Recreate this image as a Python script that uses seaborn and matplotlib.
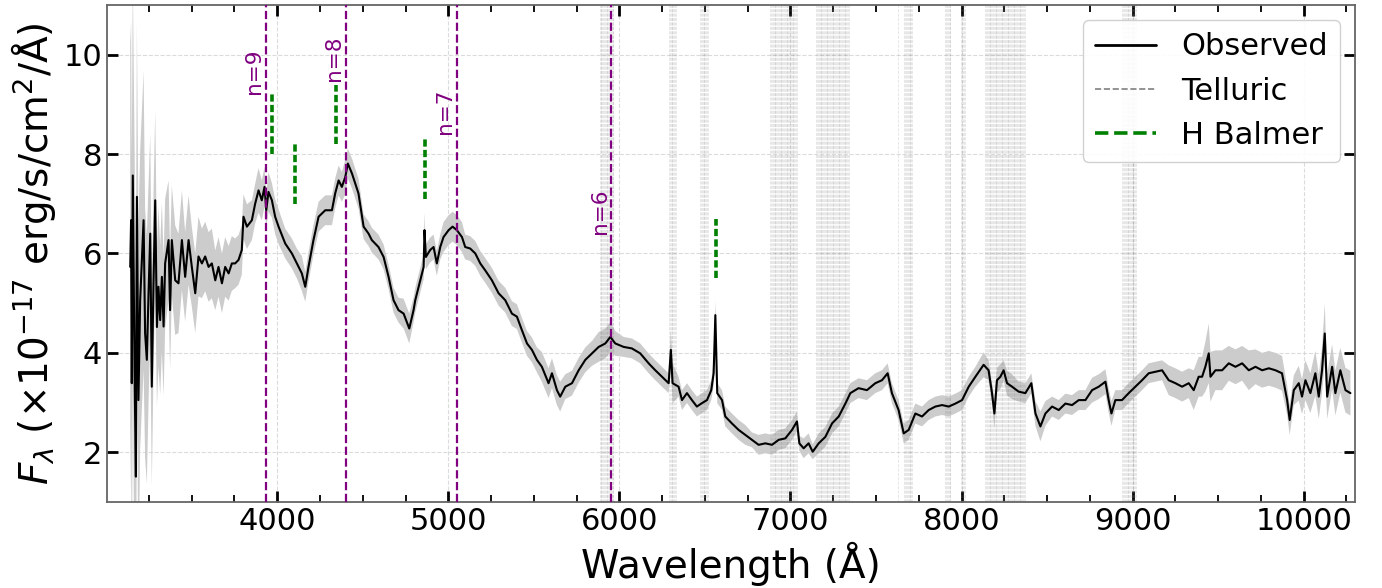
import numpy as np
import matplotlib
matplotlib.use("Agg")
import matplotlib.pyplot as plt
import seaborn as sns
from matplotlib.lines import Line2D
from matplotlib.ticker import MultipleLocator

# observed spectrum (wavelength in A, flux in 1e-17 erg/s/cm2/A)
wave = [3141, 3146, 3150, 3156, 3166, 3174, 3180, 3189, 3199, 3209,
        3219, 3228, 3238, 3248, 3258, 3267, 3277, 3287, 3297, 3306,
        3316, 3326, 3336, 3345, 3365, 3374, 3384, 3404, 3423, 3443,
        3462, 3482, 3501, 3521, 3540, 3560, 3579, 3599, 3618, 3638,
        3657, 3677, 3696, 3716, 3735, 3754, 3774, 3793, 3803, 3823,
        3852, 3871, 3891, 3910, 3926, 3936, 3949, 3969, 3988, 4008,
        4047, 4086, 4115, 4144, 4164, 4183, 4212, 4242, 4281, 4320,
        4339, 4359, 4378, 4398, 4413, 4437, 4475, 4505, 4534, 4553,
        4592, 4622, 4651, 4680, 4709, 4739, 4772, 4797,
        4807, 4836, 4856, 4861, 4869, 4894, 4914, 4933, 4953, 4972,
        5002, 5025, 5050, 5080, 5099, 5128, 5158, 5187, 5216, 5255,
        5294, 5333, 5372, 5401, 5430, 5460, 5489, 5518, 5547, 5586,
        5606, 5635, 5654, 5684, 5723, 5762, 5801, 5840, 5879, 5918,
        5947, 5976, 6025, 6073, 6122, 6171, 6210, 6249, 6288, 6301,
        6311, 6346, 6366, 6395, 6424, 6453, 6483, 6512, 6537, 6551,
        6561, 6572, 6600,
        6619, 6658, 6697, 6736, 6775, 6814, 6853, 6892, 6931, 6970,
        7009, 7038, 7052, 7077, 7106, 7130, 7165, 7204, 7243, 7282,
        7321, 7350, 7398, 7447, 7496, 7535, 7568, 7593, 7632, 7662,
        7691, 7730, 7769, 7808, 7847, 7886, 7925, 7964, 8003, 8042,
        8081, 8129, 8158, 8178, 8192, 8207, 8227, 8246, 8266, 8295,
        8334, 8373, 8408,
        8432, 8461, 8490, 8529, 8568, 8607, 8646, 8685, 8724, 8763,
        8802, 8841, 8860, 8876, 8899, 8938, 8977, 9016, 9055, 9094,
        9133, 9172, 9211, 9250, 9289, 9328, 9357, 9386, 9406, 9425,
        9445, 9455, 9484, 9523, 9562, 9601, 9640, 9679, 9718, 9757,
        9796, 9835, 9873, 9903, 9918, 9942, 9971, 9990, 10010, 10039,
        10068, 10088, 10107, 10123, 10137, 10166, 10185, 10214, 10244, 10273]

flux = [5.73, 6.67, 3.39, 7.57, 3.72, 1.51, 7.14, 3.05, 5.06, 5.87,
        6.67, 4.39, 3.86, 5.2, 6.4, 3.32, 5.4, 7.07, 4.52, 5.33,
        4.66, 5.53, 4.53, 5.8, 6.27, 4.86, 6.27, 5.46, 5.4, 6.27,
        5.53, 6.27, 5.73, 5.2, 5.94, 5.8, 5.94, 5.73, 5.8, 5.46,
        5.73, 5.4, 5.73, 5.6, 5.8, 5.8, 5.87, 6.07, 6.74, 6.54,
        6.67, 7.0, 7.27, 7.07, 7.34, 6.87, 7.24, 7.07, 6.74, 6.54,
        6.2, 6.0, 5.8, 5.6, 5.33, 5.73, 6.27, 6.74, 6.87, 6.87,
        7.21, 7.47, 7.34, 7.54, 7.81, 7.61, 7.21, 6.54, 6.4, 6.27,
        6.13, 5.93, 5.53, 5.06, 4.86, 4.79, 4.49, 4.86,
        5.06, 5.46, 5.73, 6.47, 5.93, 6.07, 6.13, 5.8, 6.13, 6.33,
        6.47, 6.54, 6.47, 6.33, 6.13, 6.1, 6.0, 5.8, 5.66, 5.46,
        5.2, 5.06, 4.79, 4.73, 4.46, 4.19, 4.06, 3.86, 3.72, 3.39,
        3.59, 3.25, 3.12, 3.32, 3.39, 3.65, 3.86, 3.99, 4.12, 4.19,
        4.32, 4.19, 4.12, 4.09, 3.99, 3.79, 3.65, 3.52, 3.39, 4.06,
        3.39, 3.32, 3.05, 3.19, 3.05, 2.92, 2.99, 3.05, 3.25, 3.59,
        4.76, 3.19, 3.05,
        2.72, 2.58, 2.45, 2.35, 2.25, 2.15, 2.18, 2.15, 2.25, 2.28,
        2.45, 2.62, 2.18, 2.08, 2.18, 2.01, 2.18, 2.31, 2.58, 2.72,
        2.98, 3.19, 3.29, 3.25, 3.39, 3.45, 3.59, 3.19, 2.85, 2.38,
        2.45, 2.78, 2.72, 2.85, 2.92, 2.95, 2.92, 2.98, 3.05, 3.32,
        3.52, 3.76, 3.65, 3.19, 2.78, 3.45, 3.52, 3.65, 3.39, 3.32,
        3.22, 3.19, 3.39,
        2.78, 2.52, 2.78, 2.92, 2.85, 2.98, 2.95, 3.05, 3.05, 3.25,
        3.32, 3.42, 3.05, 2.78, 3.05, 3.05, 3.19, 3.32, 3.45, 3.59,
        3.62, 3.65, 3.45, 3.39, 3.32, 3.39, 3.25, 3.52, 3.52, 3.72,
        3.99, 3.52, 3.65, 3.65, 3.79, 3.72, 3.79, 3.65, 3.72, 3.65,
        3.69, 3.65, 3.59, 3.05, 2.65, 3.25, 3.39, 3.12, 3.45, 3.19,
        3.59, 3.12, 3.65, 4.39, 3.12, 3.72, 3.19, 3.65, 3.25, 3.19]

# spread of the unsmoothed spectrum around the black curve
err = [4.5, 4.0, 4.5, 4.0, 4.5, 4.0, 3.5, 3.5, 3.0, 3.0,
       3.0, 2.5, 2.5, 2.2, 2.0, 2.0, 1.8, 1.8, 1.6, 1.6,
       1.5, 1.5, 1.4, 1.3, 1.2, 1.2, 1.1, 1.1, 1.0, 1.0,
       0.9, 0.9, 0.8, 0.8, 0.8, 0.7, 0.7, 0.7, 0.7, 0.6,
       0.6, 0.6, 0.6, 0.55, 0.55, 0.5, 0.5, 0.5, 0.45, 0.45,
       0.4, 0.4, 0.45, 0.4, 0.4, 0.35, 0.4, 0.35, 0.35, 0.35,
       0.3, 0.3, 0.3, 0.35, 0.3, 0.3, 0.3, 0.3, 0.3, 0.3,
       0.3, 0.3, 0.3, 0.35, 0.3, 0.3, 0.3, 0.25, 0.25, 0.25,
       0.25, 0.25, 0.25, 0.25, 0.25, 0.3, 0.3, 0.25,
       0.25, 0.25, 0.25, 0.35, 0.25, 0.25, 0.25, 0.25, 0.25, 0.3,
       0.3, 0.3, 0.3, 0.3, 0.25, 0.25, 0.25, 0.25, 0.25, 0.25,
       0.25, 0.25, 0.25, 0.25, 0.25, 0.25, 0.25, 0.25, 0.3, 0.3,
       0.3, 0.3, 0.3, 0.25, 0.25, 0.25, 0.25, 0.25, 0.3, 0.3,
       0.3, 0.25, 0.2, 0.2, 0.2, 0.2, 0.2, 0.2, 0.2, 0.4,
       0.4, 0.2, 0.2, 0.2, 0.2, 0.2, 0.2, 0.2, 0.2, 0.25,
       0.3, 0.2, 0.2,
       0.2, 0.2, 0.2, 0.2, 0.15, 0.2, 0.2, 0.2, 0.2, 0.2,
       0.2, 0.2, 0.15, 0.2, 0.2, 0.15, 0.2, 0.2, 0.2, 0.2,
       0.2, 0.2, 0.2, 0.2, 0.2, 0.2, 0.2, 0.2, 0.2, 0.2,
       0.2, 0.2, 0.2, 0.2, 0.2, 0.2, 0.2, 0.2, 0.2, 0.2,
       0.2, 0.25, 0.2, 0.2, 0.3, 0.25, 0.25, 0.2, 0.25, 0.25,
       0.2, 0.2, 0.2,
       0.25, 0.3, 0.25, 0.2, 0.2, 0.2, 0.2, 0.2, 0.2, 0.25,
       0.25, 0.25, 0.25, 0.25, 0.2, 0.2, 0.2, 0.2, 0.2, 0.2,
       0.2, 0.2, 0.3, 0.3, 0.3, 0.3, 0.4, 0.4, 0.4, 0.5,
       0.6, 0.5, 0.4, 0.4, 0.35, 0.35, 0.35, 0.4, 0.35, 0.35,
       0.35, 0.35, 0.35, 0.3, 0.3, 0.3, 0.35, 0.35, 0.4, 0.4,
       0.45, 0.45, 0.45, 0.6, 0.45, 0.45, 0.45, 0.45, 0.45, 0.45]

# telluric absorption bands (start, end) in A
tell_lo = [5885, 6290, 6472, 6882, 7151, 7628, 7666, 7905, 7999, 8139, 8940]
tell_hi = [5965, 6332, 6520, 7040, 7344, 7632, 7712, 7935, 8022, 8373, 9022]

# Balmer line markers: wavelength, bottom and top of the tick (flux units)
balmer_wave = [3970, 4102, 4341, 4861, 6563]
balmer_lo = [8.0, 7.0, 8.2, 7.1, 5.5]
balmer_hi = [9.2, 8.2, 9.4, 8.3, 6.7]

# purple markers with their labels
n_wave = [3932, 4401, 5050, 5953]
n_label = ["n=9", "n=8", "n=7", "n=6"]
n_text_y = [9.2, 9.48, 8.41, 6.4]

sns.set_style("ticks")
plt.rcParams['font.family'] = ['DejaVu Sans']
plt.rcParams['text.color'] = 'black'
plt.rcParams['axes.labelcolor'] = 'black'
plt.rcParams['xtick.color'] = 'black'
plt.rcParams['ytick.color'] = 'black'

fig = plt.figure(figsize=(13.82, 5.88), dpi=100)
ax = fig.add_axes([0.0774, 0.1463, 0.9031, 0.8452])

wave_a = np.array(wave)
flux_a = np.array(flux)
err_a = np.array(err)

ax.fill_between(wave_a, flux_a - err_a, flux_a + err_a, color='#cccccc', lw=0, zorder=1)

for lo, hi in zip(tell_lo, tell_hi):
    for w in np.arange(lo, hi + 1, 5):
        ax.axvline(w, color='gray', ls='--', lw=0.6, alpha=0.22, zorder=1.5)

sns.lineplot(x=wave_a, y=flux_a, color='black', lw=1.5, estimator=None, sort=False, ax=ax, zorder=3)

for w, lab, ty in zip(n_wave, n_label, n_text_y):
    ax.axvline(w, color='purple', ls='--', lw=1.6, zorder=4)
    ax.text(w - 8, ty, lab, rotation=90, color='purple', fontsize=15.5, ha='right', va='bottom', zorder=5)

ax.vlines(balmer_wave, balmer_lo, balmer_hi, color='green', lw=2.6, linestyles=[(0, (2, 0.9))], zorder=5)

ax.set_xlim(3005, 10300)
ax.set_ylim(1, 11)
ax.xaxis.set_major_locator(MultipleLocator(1000))
ax.xaxis.set_minor_locator(MultipleLocator(250))
ax.yaxis.set_major_locator(MultipleLocator(2))
ax.tick_params(which='both', direction='in', top=True, right=True, labelsize=22, colors='black')
ax.tick_params(which='major', length=8, width=2)
ax.tick_params(which='minor', length=5, width=1.3)
ax.grid(True, which='major', ls='--', color='lightgray', lw=0.8, alpha=0.8)
ax.set_axisbelow(True)
for sp in ax.spines.values():
    sp.set_color('0.4')
    sp.set_linewidth(1.3)

ax.set_xlabel('Wavelength (Å)', fontsize=28, color='black')
ax.set_ylabel(r'$F_{\lambda}$ ($\times10^{-17}$ erg/s/cm$^2$/Å)', fontsize=28, color='black')

handles = [Line2D([0], [0], color='black', lw=2),
           Line2D([0], [0], color='gray', ls='--', lw=1.2),
           Line2D([0], [0], color='green', ls='--', lw=2.6)]
leg = ax.legend(handles, ['Observed', 'Telluric', 'H Balmer'], loc='upper right', fontsize=22, framealpha=0.9)
for t in leg.get_texts():
    t.set_color('black')

fig.savefig('out.png', dpi=100)
